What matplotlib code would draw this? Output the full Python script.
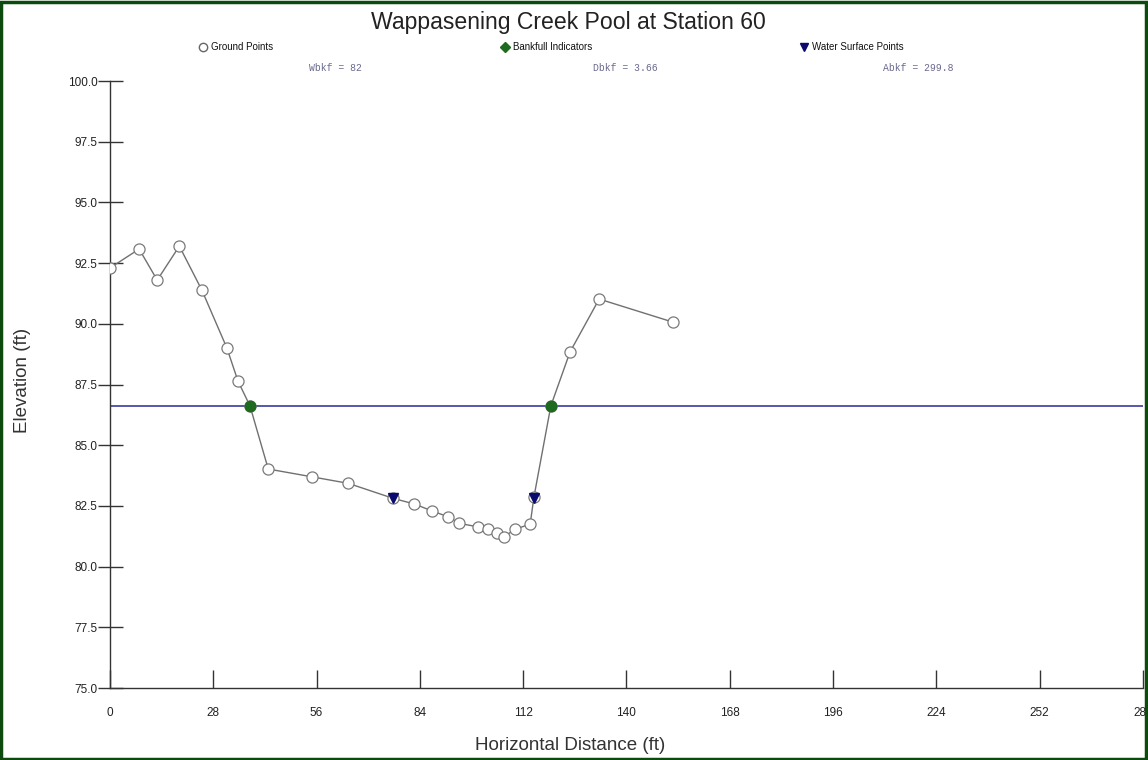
import matplotlib
matplotlib.use("Agg")
import matplotlib.pyplot as plt
from matplotlib.lines import Line2D
from matplotlib.patches import Rectangle

plt.rcParams['font.family'] = ['Liberation Sans', 'DejaVu Sans']

# ground survey points (ft)
ground_x = [0, 7.9, 12.8, 18.8, 24.9, 31.7, 34.7, 37.95, 42.9, 54.7, 64.6, 76.8,
            82.5, 87.2, 91.7, 94.7, 99.7, 102.4, 104.8, 106.8, 109.8, 113.9, 114.9,
            119.5, 124.7, 132.6, 152.6]
ground_y = [92.30, 93.08, 91.80, 93.20, 91.39, 89.00, 87.64, 86.62, 84.02, 83.70,
            83.43, 82.81, 82.58, 82.30, 82.05, 81.78, 81.64, 81.54, 81.40, 81.23,
            81.54, 81.75, 82.85, 86.62, 88.84, 91.02, 90.07]

bankfull_x = [37.95, 119.5]
bankfull_y = [86.62, 86.62]
bankfull_elev = 86.62

water_x = [76.8, 114.9]
water_y = [82.83, 82.83]

x_ticks = [0, 28, 56, 84, 112, 140, 168, 196, 224, 252, 280]
y_ticks = [75.0, 77.5, 80.0, 82.5, 85.0, 87.5, 90.0, 92.5, 95.0, 97.5, 100.0]

stats = ["Wbkf = 82", "Dbkf = 3.66", "Abkf = 299.8"]

fig = plt.figure(figsize=(11.48, 7.6), dpi=100)
ax = fig.add_axes([0.0958, 0.0947, 0.8998, 0.7987])

ax.axhline(bankfull_elev, color='#4a4aa6', lw=1.3, zorder=2)
ax.plot(ground_x, ground_y, color='#707070', lw=1.0, marker='o', ms=8,
        mfc='white', mec='#7a7a7a', mew=0.9, zorder=3)
ax.plot(bankfull_x, bankfull_y, ls='none', marker='o', ms=7.5,
        color='#1e6a1e', zorder=4)
ax.plot(water_x, water_y, ls='none', marker='v', ms=7.5,
        color='#0a0a6e', zorder=4)

ax.set_xlim(0, 280)
ax.set_ylim(75, 100)
ax.set_xticks(x_ticks)
ax.set_xticklabels([str(t) for t in x_ticks], fontsize=8.5, color='#222222')
ax.set_yticks(y_ticks)
ax.set_yticklabels(['%.1f' % t for t in y_ticks], fontsize=8.5, color='#222222')
ax.tick_params(axis='y', direction='inout', length=18, width=1.0, pad=0, color='#333333')
ax.tick_params(axis='x', direction='in', length=13, width=1.0, pad=14, color='#333333')
for s in ['top', 'right']:
    ax.spines[s].set_visible(False)
for s in ['left', 'bottom']:
    ax.spines[s].set_color('#333333')
    ax.spines[s].set_linewidth(1.0)

ax.set_xlabel('Horizontal Distance (ft)', fontsize=13.5, color='#333333',
              va='center', ha='center')
ax.xaxis.set_label_coords(0.445, -0.0955)
ax.set_ylabel('Elevation (ft)', fontsize=13.5, color='#333333',
              va='center', ha='center')
ax.yaxis.set_label_coords(-0.085, 0.507)

fig.text(0.495, 0.97, 'Wappasening Creek Pool at Station 60', ha='center',
         va='center', fontsize=16.6, color='#222222')

# legend row
legend_items = [('o', 'white', '#666666', 'Ground Points', 0.177),
                ('D', '#1e6a1e', '#1e6a1e', 'Bankfull Indicators', 0.440),
                ('v', '#0a0a6e', '#0a0a6e', 'Water Surface Points', 0.700)]
for mk, fc, ec, lab, xpos in legend_items:
    fig.add_artist(Line2D([xpos], [0.938], marker=mk, ms=6 if mk != 'D' else 5,
                          mfc=fc, mec=ec, ls='none', transform=fig.transFigure))
    fig.text(xpos + 0.007, 0.938, lab, ha='left', va='center', fontsize=7, color='#111111')

for lab, xpos in zip(stats, [0.292, 0.545, 0.800]):
    fig.text(xpos, 0.911, lab, ha='center', va='center', fontsize=7,
             family='Liberation Mono', color='#6a6a8e')

fig.add_artist(Rectangle((0.001, 0.001), 0.997, 0.996, transform=fig.transFigure,
                         fill=False, ec='#0d4a0d', lw=2.5))

fig.savefig('out.png', dpi=100)
